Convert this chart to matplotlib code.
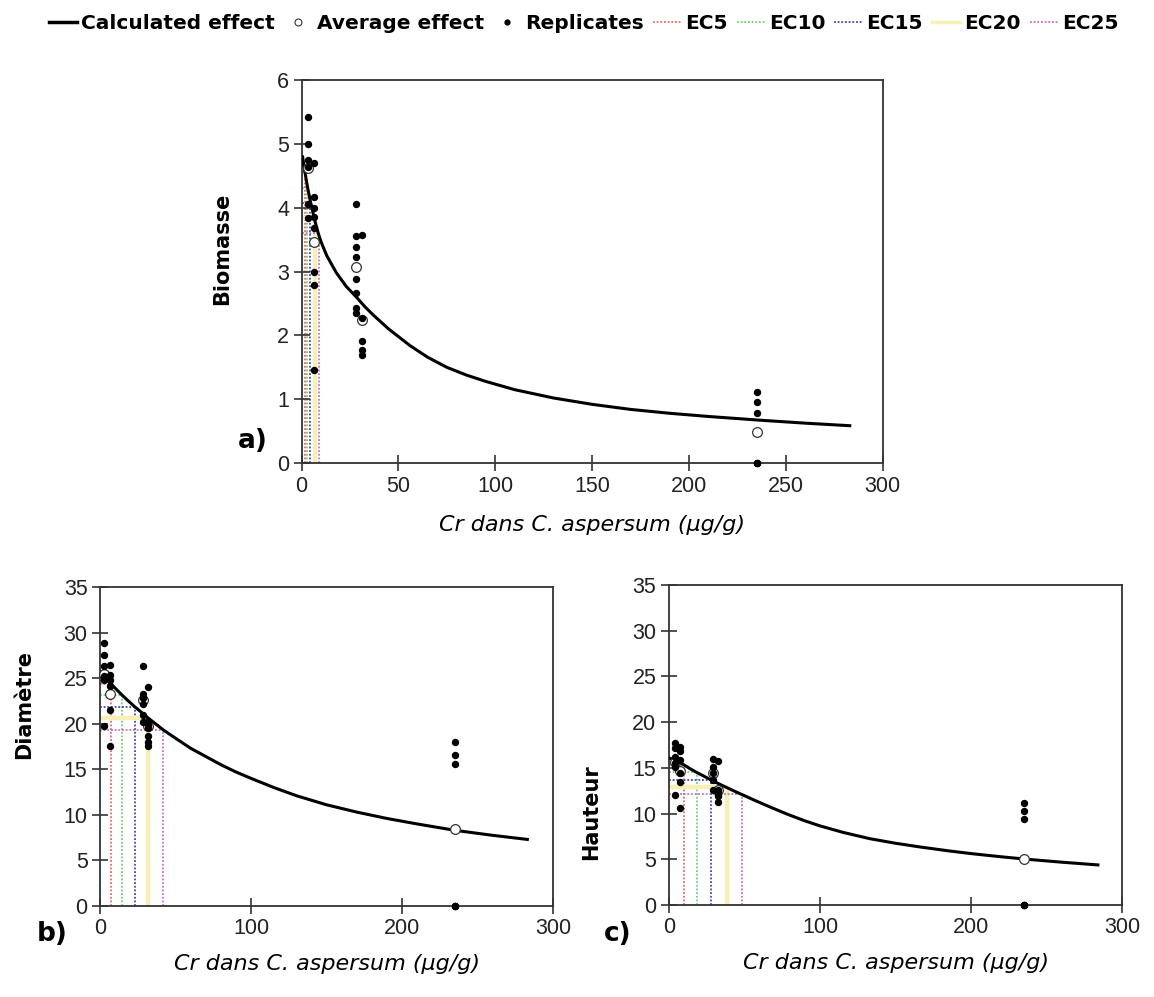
import matplotlib
matplotlib.use("Agg")
import matplotlib.pyplot as plt
from matplotlib.lines import Line2D

# ---------------- data ----------------
# a) Biomasse
a_curve_x = [0.5, 1.6, 3.0, 4.4, 6.8, 8.7, 10, 13, 18, 23, 28, 33, 37, 45, 56, 65, 75, 85,
             95, 110, 130, 150, 170, 190, 210, 235, 260, 283]
a_curve_y = [4.80, 4.58, 4.33, 4.12, 3.80, 3.59, 3.47, 3.25, 2.98, 2.77, 2.61, 2.44, 2.32,
             2.10, 1.84, 1.66, 1.50, 1.38, 1.28, 1.15, 1.02, 0.92, 0.84, 0.78, 0.73, 0.675,
             0.625, 0.585]
a_rep_x = [3.1] * 6 + [6.5] * 8 + [28] * 8 + [30.9] * 5 + [235] * 6
a_rep_y = [5.42, 5.00, 4.75, 4.64, 4.07, 3.84,
           4.70, 4.17, 4.00, 3.86, 3.68, 3.00, 2.79, 1.46,
           4.06, 3.56, 3.39, 3.23, 2.88, 2.66, 2.43, 2.35,
           3.57, 2.27, 1.92, 1.77, 1.69,
           1.11, 0.96, 0.78, 0.0, 0.0, 0.0]
a_avg_x = [3.1, 6.5, 28, 30.9, 235]
a_avg_y = [4.62, 3.46, 3.07, 2.24, 0.48]
a_ec_x = [1.6, 3.0, 4.4, 6.8, 8.7]
a_ec_y = [4.56, 4.32, 4.08, 3.84, 3.60]

# b) Diamètre
b_curve_x = [0.5, 2, 4, 7.1, 10, 14.8, 18, 23, 27, 32, 37, 42, 50, 60, 70, 80, 90, 100,
             115, 130, 150, 170, 190, 210, 235, 260, 283]
b_curve_y = [25.6, 25.3, 24.95, 24.4, 23.9, 23.1, 22.6, 21.85, 21.3, 20.6, 19.95, 19.3,
             18.4, 17.3, 16.4, 15.5, 14.7, 14.0, 13.0, 12.1, 11.1, 10.3, 9.6, 9.0, 8.3,
             7.75, 7.3]
b_rep_x = [2.6] * 6 + [6.6] * 6 + [28.7] * 6 + [31.8] * 7 + [235] * 6
b_rep_y = [28.8, 27.5, 26.3, 25.2, 24.8, 19.7,
           26.45, 25.35, 24.8, 24.1, 21.5, 17.5,
           26.3, 23.3, 22.8, 22.2, 21.0, 20.2,
           24.0, 20.3, 19.9, 19.5, 18.6, 18.0, 17.5,
           18.0, 16.6, 15.6, 0.0, 0.0, 0.0]
b_avg_x = [2.6, 6.6, 28.7, 31.8, 235]
b_avg_y = [25.4, 23.3, 22.6, 19.7, 8.4]
b_ec_x = [7.1, 14.8, 23.0, 32.0, 42.0]
b_ec_y = [24.4, 23.1, 21.85, 20.6, 19.3]

# c) Hauteur
c_curve_x = [0.5, 3, 6, 10.1, 14, 18.3, 23, 27.6, 33, 38.2, 43, 48.3, 56, 65, 78, 90, 100,
             115, 133, 150, 166, 185, 200, 220, 237, 260, 284]
c_curve_y = [16.05, 15.9, 15.7, 15.3, 14.9, 14.5, 14.1, 13.7, 13.25, 12.85, 12.47, 12.08,
             11.5, 10.85, 9.95, 9.2, 8.65, 7.95, 7.25, 6.75, 6.35, 5.92, 5.62, 5.27, 5.0,
             4.68, 4.38]
c_rep_x = [4.0] * 6 + [7.3] * 6 + [29.3] * 5 + [32.7] * 6 + [235] * 6
c_rep_y = [17.76, 17.15, 16.2, 15.5, 15.1, 12.0,
           17.3, 16.8, 15.85, 14.4, 13.5, 10.6,
           16.0, 15.1, 14.4, 13.7, 12.6,
           15.7, 12.6, 12.3, 12.0, 11.9, 11.3,
           11.2, 10.3, 9.4, 0.0, 0.0, 0.0]
c_avg_x = [4.0, 7.3, 29.3, 32.7, 235]
c_avg_y = [15.6, 14.7, 14.4, 12.6, 5.0]
c_ec_x = [10.1, 18.3, 27.6, 38.2, 48.3]
c_ec_y = [15.3, 14.5, 13.7, 12.9, 12.1]

ec_names = ["EC5", "EC10", "EC15", "EC20", "EC25"]
ec_colors = ["#e0554a", "#5cc85c", "#27279a", "#f6f0b4", "#c055c8"]
ec_widths = [1.1, 1.1, 1.1, 3.2, 1.1]
ec_styles = [(0, (1.2, 1.2)), (0, (1.2, 1.2)), (0, (1.2, 1.2)), "-", (0, (1.2, 1.2))]

x_label = "Cr dans C. aspersum (µg/g)"

# ---------------- figure ----------------
fig = plt.figure(figsize=(11.54, 9.97), dpi=100)

tick_font = dict(family="Liberation Sans", size=15.5)
label_font = dict(family="DejaVu Sans", weight="bold", size=15)


def draw_panel(ax, cx, cy, rx, ry, avx, avy, ecx, ecy, ylim, yticks, xticks, ylabel,
               ylab_pos, xlab_y):
    # effect-concentration guide lines
    for k in range(len(ecx)):
        ax.plot([ecx[k], ecx[k]], [0, ecy[k]], color=ec_colors[k], lw=ec_widths[k],
                ls=ec_styles[k], zorder=1, solid_capstyle="butt")
        ax.plot([0, ecx[k]], [ecy[k], ecy[k]], color=ec_colors[k], lw=ec_widths[k],
                ls=ec_styles[k], zorder=1, solid_capstyle="butt")
    ax.plot(cx, cy, color="black", lw=2.2, zorder=3)
    ax.plot(avx, avy, ls="none", marker="o", ms=7, mfc="white", mec="#333333",
            mew=0.9, zorder=4, clip_on=False)
    ax.plot(rx, ry, ls="none", marker="o", ms=4.3, color="black", zorder=5,
            clip_on=False)
    ax.set_xlim(0, 300)
    ax.set_ylim(*ylim)
    ax.set_xticks(xticks)
    ax.set_yticks(yticks)
    for lab in ax.get_xticklabels() + ax.get_yticklabels():
        lab.set_fontfamily(tick_font["family"])
        lab.set_fontsize(tick_font["size"])
        lab.set_color("#222222")
    ax.tick_params(direction="inout", length=12, width=1.2, color="#333333", pad=3)
    for sp in ax.spines.values():
        sp.set_color("#333333")
        sp.set_linewidth(1.3)
    ax.set_ylabel(ylabel, **label_font)
    ax.yaxis.set_label_coords(*ylab_pos)
    ax.set_xlabel(x_label, family="DejaVu Sans", style="italic", size=16)
    ax.xaxis.set_label_coords(0.5, xlab_y)


ax_a = fig.add_axes([0.2614, 0.5356, 0.5035, 0.3837])
draw_panel(ax_a, a_curve_x, a_curve_y, a_rep_x, a_rep_y, a_avg_x, a_avg_y, a_ec_x, a_ec_y,
           (0, 6), range(0, 7), range(0, 301, 50), "Biomasse", (-0.12, 0.56), -0.135)

ax_b = fig.add_axes([0.0867, 0.0913, 0.3925, 0.3200])
draw_panel(ax_b, b_curve_x, b_curve_y, b_rep_x, b_rep_y, b_avg_x, b_avg_y, b_ec_x, b_ec_y,
           (0, 35), range(0, 36, 5), range(0, 301, 100), "Diamètre", (-0.145, 0.63),
           -0.15)

ax_c = fig.add_axes([0.5797, 0.0923, 0.3926, 0.3210])
draw_panel(ax_c, c_curve_x, c_curve_y, c_rep_x, c_rep_y, c_avg_x, c_avg_y, c_ec_x, c_ec_y,
           (0, 35), range(0, 36, 5), range(0, 301, 100), "Hauteur", (-0.15, 0.29),
           -0.15)

panel_font = dict(family="DejaVu Sans", weight="bold", size=19)
fig.text(0.219, 0.558, "a)", ha="center", va="center", **panel_font)
fig.text(0.045, 0.063, "b)", ha="center", va="center", **panel_font)
fig.text(0.5355, 0.063, "c)", ha="center", va="center", **panel_font)

# legend across the top
handles = [Line2D([], [], color="black", lw=2.5),
           Line2D([], [], ls="none", marker="o", ms=5, mfc="white", mec="#333333",
                  mew=0.8),
           Line2D([], [], ls="none", marker="o", ms=3.5, color="black")]
for k in range(5):
    handles.append(Line2D([], [], color=ec_colors[k], lw=ec_widths[k] if k != 3 else 2.5,
                          ls=ec_styles[k]))
labels = ["Calculated effect", "Average effect", "Replicates"] + ec_names
fig.legend(handles, labels, loc="upper center", bbox_to_anchor=(0.506, 1.004), ncol=8,
           frameon=False, handlelength=1.4, handletextpad=0.2, columnspacing=0.45,
           prop=dict(family="DejaVu Sans", weight="bold", size=14.5))

fig.savefig("out.png", dpi=100)
